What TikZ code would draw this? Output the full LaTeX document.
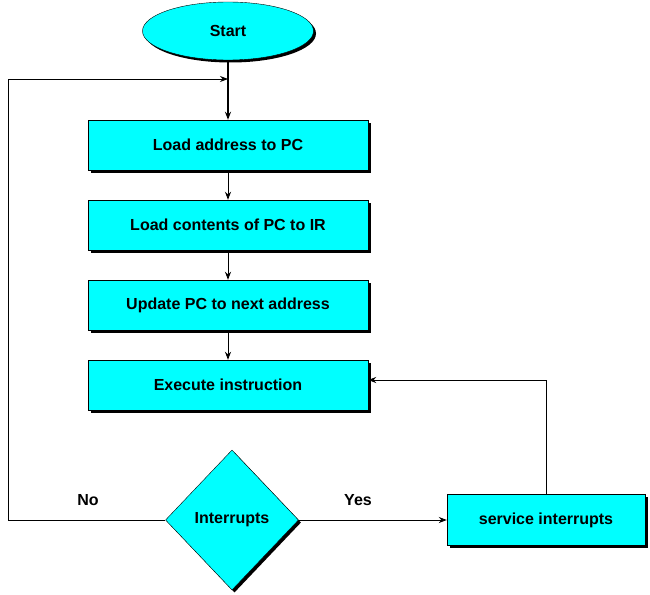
\documentclass[tikz,border=0pt]{standalone}
\usepackage{fontspec}
\setmainfont{Liberation Sans}
\usepackage{tikz}
\usetikzlibrary{
    arrows.meta,
    shapes.geometric,
    shadows,
    positioning
}
\definecolor{flowcyan}{RGB}{0,255,255}
\tikzset{
    base/.style={draw=black, fill=flowcyan, inner sep=0pt,
        font=\bfseries\fontsize{16}{19}\selectfont,
        drop shadow={shadow xshift=2.5pt, shadow yshift=-2.5pt, fill=black, opacity=1}},
    stepbox/.style={base, rectangle, minimum width=280pt, minimum height=50pt},
    termbox/.style={base, ellipse, minimum width=171pt, minimum height=58pt},
    decbox/.style={base, diamond, minimum width=133pt, minimum height=140pt},
    link/.style={draw=black, line width=0.8pt, -{Stealth[length=8pt, width=6pt]}},
    tag/.style={font=\bfseries\fontsize{16}{19}\selectfont}
}

\begin{document}
\begin{tikzpicture}[x=1pt, y=-1pt]
    \useasboundingbox (0, 0) rectangle (650, 594);
    \node[termbox] (start) at (228, 31) {Start};
    \node[stepbox] (load) at (228, 145) {Load address to PC};
    \node[stepbox] (fetch) at (228, 225) {Load contents of PC to IR};
    \node[stepbox] (update) at (228, 305) {Update PC to next address};
    \node[stepbox] (exec) at (228, 385) {Execute instruction};
    \node[decbox] (irq) at (232, 520) {Interrupts};
    \node[stepbox, minimum width=198pt, minimum height=51pt] (serv) at (546, 520) {service interrupts};
    \node[tag] (no) at (88, 500) {No};
    \node[tag] (yes) at (358, 500) {Yes};
    \coordinate (merge) at (228, 79);
    \coordinate (corner) at (8, 520);
    % main flow
    \draw[link, line width=1.6pt] (start) -- (load);
    \draw[link] (load) -- (fetch);
    \draw[link] (fetch) -- (update);
    \draw[link] (update) -- (exec);
    % decision branches
    \draw[link] (irq.west) -- (corner) |- (merge);
    \draw[link] (irq.east) -- (serv.west);
    \draw[link] (serv.north) |- ([yshift=5pt]exec.east);
\end{tikzpicture}
\end{document}
